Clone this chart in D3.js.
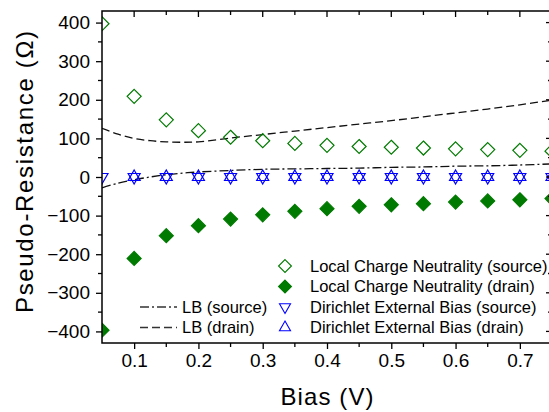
<!DOCTYPE html>
<head>
 <meta charset="utf-8">
 <script src="https://cdnjs.cloudflare.com/ajax/libs/d3/7.8.5/d3.min.js"></script>
 <style>
   body { margin: 0; background: #fff; }
   text { font-family: "Liberation Sans", Arial, sans-serif; fill: #000; }
 </style>
</head>
<body>
 <div id="chart"></div>
<script type="text/javascript">
 // bias points (V)
 var bias = [0.05, 0.1, 0.15, 0.2, 0.25, 0.3, 0.35, 0.4, 0.45, 0.5, 0.55, 0.6, 0.65, 0.7, 0.75];
 var lcnSource = [397, 209, 148, 120, 103, 94, 87, 82, 79, 77, 75, 73, 71, 69, 67];
 var lcnDrain = [-397, -211, -152, -126, -109, -98, -89, -82, -76, -72, -69, -65, -62, -59, -56];
 var dirSource = [0, 0, 0, 0, 0, 0, 0, 0, 0, 0, 0, 0, 0, 0, 0];
 var dirBias = [0.1, 0.15, 0.2, 0.25, 0.3, 0.35, 0.4, 0.45, 0.5, 0.55, 0.6, 0.65, 0.7, 0.75];
 var dirDrain = [0, 0, 0, 0, 0, 0, 0, 0, 0, 0, 0, 0, 0, 0];

 // LB curves
 var lbBias = [0.05, 0.075, 0.1, 0.125, 0.15, 0.175, 0.2, 0.25, 0.3, 0.35, 0.4, 0.45, 0.5, 0.55, 0.6, 0.65, 0.7, 0.75];
 var lbSource = [-28, -16, -7, 0, 6, 10, 13, 17, 20, 21, 22, 23, 25, 26, 28, 29, 31, 34];
 var lbDrain = [126, 111, 100, 94, 91, 90, 91, 101, 110, 119, 128, 137, 146, 156, 166, 176, 187, 199];

 var xTicks = [0.1, 0.2, 0.3, 0.4, 0.5, 0.6, 0.7];
 var yTicks = [-400, -300, -200, -100, 0, 100, 200, 300, 400];

 var props = {
   width: 549,
   height: 412,
   left: 102,
   right: 552,
   top: 11,
   bottom: 343
 };

 var green = "#007a00";
 var blue = "#0000ff";

 var svg = d3.select("#chart").append("svg").attr("width", props.width).attr("height", props.height);

 var x = d3.scaleLinear().domain([0.05, 0.75]).range([props.left, props.right]);
 var y = d3.scaleLinear().domain([-430, 430]).range([props.bottom, props.top]);

 svg.append("clipPath").attr("id", "plot-clip")
   .append("rect")
   .attr("x", props.left).attr("y", props.top)
   .attr("width", props.right - props.left).attr("height", props.bottom - props.top);

 var plot = svg.append("g").attr("clip-path", "url(#plot-clip)");

 // LB lines
 var line = d3.line()
   .x(function(d){ return x(d[0]); })
   .y(function(d){ return y(d[1]); })
   .curve(d3.curveCatmullRom);

 plot.append("path")
   .datum(d3.zip(lbBias, lbDrain))
   .attr("d", line)
   .attr("fill", "none").attr("stroke", "#111").attr("stroke-width", 1.3)
   .attr("stroke-dasharray", "8,4");

 plot.append("path")
   .datum(d3.zip(lbBias, lbSource))
   .attr("d", line)
   .attr("fill", "none").attr("stroke", "#111").attr("stroke-width", 1.3)
   .attr("stroke-dasharray", "9,3,2,3");

 var diamond = "M0,-7L7,0L0,7L-7,0Z";
 var triUp = "M0,-7L6,3.5L-6,3.5Z";
 var triDown = "M0,7L6,-3.5L-6,-3.5Z";

 function markers(xs, ys, shape, fill, stroke){
   plot.append("g").selectAll("path")
     .data(d3.zip(xs, ys))
     .enter()
     .append("path")
     .attr("d", shape)
     .attr("transform", function(d){ return "translate(" + x(d[0]) + "," + y(d[1]) + ")"; })
     .attr("fill", fill)
     .attr("stroke", stroke)
     .attr("stroke-width", 1.2);
 }

 markers(bias, lcnSource, diamond, "none", green);
 markers(bias, lcnDrain, diamond, green, green);
 markers(bias, dirSource, triDown, "none", blue);
 markers(dirBias, dirDrain, triUp, "none", blue);

 // axes
 var bottomAxis = d3.axisBottom(x).tickValues(xTicks).tickSize(6).tickPadding(5).tickFormat(d3.format(".1f"));
 var leftAxis = d3.axisLeft(y).tickValues(yTicks).tickSize(6).tickPadding(6).tickFormat(d3.format("d"));

 var gx = svg.append("g").attr("transform", "translate(0," + props.bottom + ")").call(bottomAxis);
 var gy = svg.append("g").attr("transform", "translate(" + props.left + ",0)").call(leftAxis);
 [gx, gy].forEach(function(g){
   g.select(".domain").remove();
   g.selectAll("line").attr("stroke", "#000").attr("stroke-width", 1.3);
   g.selectAll("text").style("font-size", "19px").style("font-family", "'Liberation Sans', Arial, sans-serif");
 });

 // minor ticks
 var xMinor = [0.15, 0.25, 0.35, 0.45, 0.55, 0.65];
 var yMinor = [-350, -250, -150, -50, 50, 150, 250, 350];
 svg.append("g").selectAll("line").data(xMinor).enter().append("line")
   .attr("x1", x).attr("x2", x).attr("y1", props.bottom).attr("y2", props.bottom + 4)
   .attr("stroke", "#000").attr("stroke-width", 1.3);
 svg.append("g").selectAll("line").data(yMinor).enter().append("line")
   .attr("y1", y).attr("y2", y).attr("x1", props.left).attr("x2", props.left - 4)
   .attr("stroke", "#000").attr("stroke-width", 1.3);

 // mirror ticks on top and right, pointing inward
 svg.append("g").selectAll("line").data(xTicks.concat(xMinor)).enter().append("line")
   .attr("x1", x).attr("x2", x).attr("y1", props.top)
   .attr("y2", function(d){ return props.top + (xTicks.indexOf(d) >= 0 ? 6 : 4); })
   .attr("stroke", "#000").attr("stroke-width", 1.3);
 svg.append("g").selectAll("line").data(yTicks.concat(yMinor)).enter().append("line")
   .attr("y1", y).attr("y2", y).attr("x1", props.right)
   .attr("x2", function(d){ return props.right - (yTicks.indexOf(d) >= 0 ? 6 : 4); })
   .attr("stroke", "#000").attr("stroke-width", 1.3);

 // frame
 svg.append("rect")
   .attr("x", props.left).attr("y", props.top)
   .attr("width", props.right - props.left).attr("height", props.bottom - props.top)
   .attr("fill", "none").attr("stroke", "#000").attr("stroke-width", 1.5);

 // axis titles
 svg.append("text")
   .attr("x", (props.left + props.right) / 2).attr("y", 405)
   .attr("text-anchor", "middle")
   .attr("textLength", 93).attr("lengthAdjust", "spacing")
   .style("font-size", "24px")
   .text("Bias (V)");

 svg.append("text")
   .attr("transform", "translate(33," + 172 + ") rotate(-90)")
   .attr("text-anchor", "middle")
   .attr("textLength", 282).attr("lengthAdjust", "spacing")
   .style("font-size", "24px")
   .text("Pseudo-Resistance (\u03A9)");

 // legend: markers
 var legendItems = [
   {label: "Local Charge Neutrality (source)", shape: diamond, fill: "none", stroke: green},
   {label: "Local Charge Neutrality (drain)", shape: diamond, fill: green, stroke: green},
   {label: "Dirichlet External Bias (source)", shape: triDown, fill: "none", stroke: blue},
   {label: "Dirichlet External Bias (drain)", shape: triUp, fill: "none", stroke: blue}
 ];
 var legendRows = [266, 286.5, 307, 327.5];

 var leg = svg.append("g").selectAll("g").data(legendItems).enter().append("g")
   .attr("transform", function(d, i){ return "translate(285," + legendRows[i] + ")"; });
 leg.append("path")
   .attr("d", function(d){ return d.shape; })
   .attr("transform", "scale(0.92)")
   .attr("fill", function(d){ return d.fill; })
   .attr("stroke", function(d){ return d.stroke; })
   .attr("stroke-width", 1.2);
 leg.append("text")
   .attr("x", 25).attr("dy", "0.36em")
   .style("font-size", "16.5px")
   .text(function(d){ return d.label; });

 // legend: lines
 var lineItems = [
   {label: "LB (source)", dash: "9,3,2,3"},
   {label: "LB (drain)", dash: "8,4"}
 ];
 var lleg = svg.append("g").selectAll("g").data(lineItems).enter().append("g")
   .attr("transform", function(d, i){ return "translate(140," + legendRows[i + 2] + ")"; });
 lleg.append("line")
   .attr("x1", 0).attr("x2", 37)
   .attr("stroke", "#333").attr("stroke-width", 1.3)
   .attr("stroke-dasharray", function(d){ return d.dash; });
 lleg.append("text")
   .attr("x", 42).attr("dy", "0.36em")
   .style("font-size", "16.5px")
   .text(function(d){ return d.label; });
</script>
</body>
